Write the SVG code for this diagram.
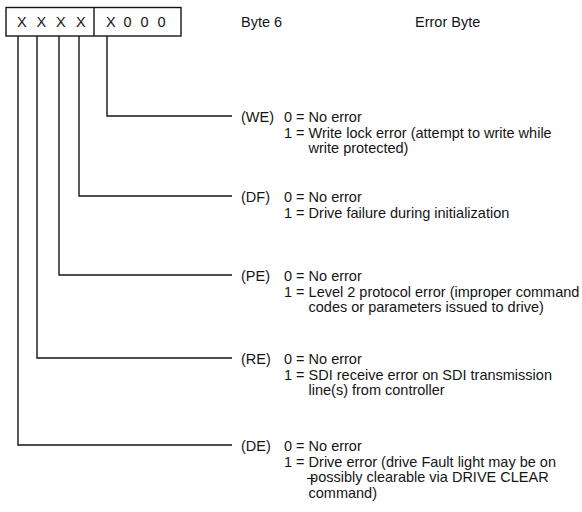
<svg xmlns="http://www.w3.org/2000/svg" width="582" height="512" viewBox="0 0 582 512">
<style>
text{font-family:"Liberation Sans",Arial,sans-serif;font-size:14.5px;fill:#151515}
.ln{fill:none;stroke:#151515;stroke-width:1.4}
</style>
<rect width="582" height="512" fill="#fff"/>
<g id="byte-box">
<rect class="ln" x="6" y="7.5" width="175" height="28.5"/>
<line class="ln" x1="94" y1="7.5" x2="94" y2="36"/>
<text y="27"><tspan x="17">X</tspan><tspan x="36.5">X</tspan><tspan x="56">X</tspan><tspan x="76">X</tspan></text>
<text y="27"><tspan x="106">X</tspan><tspan x="123.5">0</tspan><tspan x="140.5">0</tspan><tspan x="157.5">0</tspan></text>
</g>
<g id="header">
<text x="241" y="27">Byte 6</text>
<text x="415" y="27">Error Byte</text>
</g>
<g id="connectors">
<polyline class="ln" points="107,36 107,116 232,116"/>
<polyline class="ln" points="79,36 79,196 232,196"/>
<polyline class="ln" points="59,36 59,275 232,275"/>
<polyline class="ln" points="37,36 37,358 232,358"/>
<polyline class="ln" points="18,36 18,445 232,445"/>
</g>
<g id="WE">
<text x="241" y="122">(WE)</text>
<text x="284" y="122">0 = No error</text>
<text x="284" y="137.5">1 = Write lock error (attempt to write while</text>
<text x="308.5" y="153">write protected)</text>
</g>
<g id="DF">
<text x="241" y="202">(DF)</text>
<text x="284" y="202">0 = No error</text>
<text x="284" y="217.5">1 = Drive failure during initialization</text>
</g>
<g id="PE">
<text x="241" y="281">(PE)</text>
<text x="284" y="281">0 = No error</text>
<text x="284" y="296.5">1 = Level 2 protocol error (improper command</text>
<text x="308.5" y="312">codes or parameters issued to drive)</text>
</g>
<g id="RE">
<text x="241" y="364">(RE)</text>
<text x="284" y="364">0 = No error</text>
<text x="284" y="379.5">1 = SDI receive error on SDI transmission</text>
<text x="308.5" y="395">line(s) from controller</text>
</g>
<g id="DE">
<text x="241" y="451">(DE)</text>
<text x="284" y="451">0 = No error</text>
<text x="284" y="466.5">1 = Drive error (drive Fault light may be on</text>
<text x="307" y="482">–<tspan dx="-5">possibly clearable via DRIVE CLEAR</tspan></text>
<text x="308.5" y="497.5">command)</text>
</g>
</svg>
